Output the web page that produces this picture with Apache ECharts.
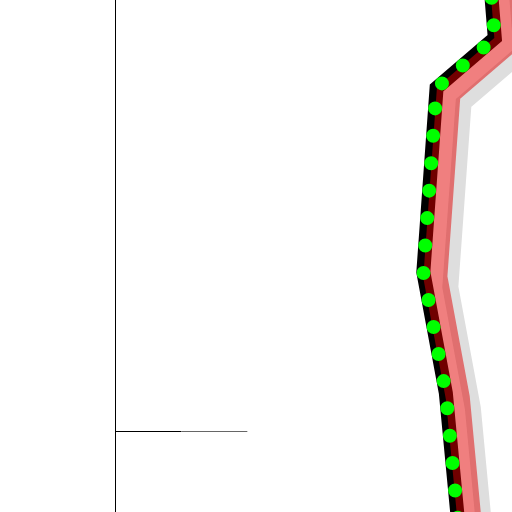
<!DOCTYPE html>
<html>
<head>
<meta charset="utf-8">
<script src="https://cdn.jsdelivr.net/npm/echarts@6/dist/echarts.min.js"></script>
<style>html,body{margin:0;padding:0;background:#fff}#c{width:512px;height:512px}</style>
</head>
<body>
<div id="c"></div>
<script>
// data
const xValues = [281, 287, 243, 233, 250, 262];
const yValues = [491, 393, 343, 159, 38, -129];
const baseLineX = [0, 50, 100];
const xMin = 0, xMax = 300;
const yMin = -181, yMax = 531;

const pts = xValues.map((x, i) => [x, yValues[i]]);
const chart = echarts.init(document.getElementById('c'), null, {renderer: 'canvas'});

function grid(dx, dy) {
  return {left: 115 + dx, top: -100 + dy, width: 397, height: 712,
          containLabel: false, outerBoundsMode: 'none'};
}
function hiddenX(i) {
  return {type: 'value', gridIndex: i, min: xMin, max: xMax, show: false};
}
function hiddenY(i) {
  return {type: 'value', gridIndex: i, min: yMin, max: yMax, show: false};
}

chart.setOption({
  animation: false,
  grid: [grid(0, 0), grid(12, 5), grid(27, 15)],
  xAxis: [
    {type: 'value', gridIndex: 0, min: xMin, max: xMax,
     axisLine: {show: false}, axisTick: {show: false}, axisLabel: {show: false}, splitLine: {show: false}},
    hiddenX(1), hiddenX(2)
  ],
  yAxis: [
    {type: 'value', gridIndex: 0, min: yMin, max: yMax,
     axisLine: {show: true, onZero: false, lineStyle: {width: 1, color: '#000'}},
     axisTick: {show: false}, axisLabel: {show: false}, splitLine: {show: false}},
    hiddenY(1), hiddenY(2)
  ],
  series: [
    {type: 'line', xAxisIndex: 2, yAxisIndex: 2, data: pts, symbol: 'none', clip: false,
     lineStyle: {color: '#dedede', width: 16, join: 'miter'}},
    {type: 'line', xAxisIndex: 0, yAxisIndex: 0, data: pts, symbol: 'none', clip: false,
     lineStyle: {color: '#000000', width: 14, join: 'miter'},
     markLine: {silent: true, symbol: 'none', label: {show: false},
       data: [
         [{coord: [baseLineX[0], 0], lineStyle: {color: '#000', width: 1, type: 'solid'}}, {coord: [baseLineX[1], 0]}],
         [{coord: [baseLineX[1], 0], lineStyle: {color: '#666', width: 1, type: 'solid'}}, {coord: [baseLineX[2], 0]}]
       ]}},
    {type: 'line', xAxisIndex: 1, yAxisIndex: 1, data: pts, symbol: 'none', clip: false,
     lineStyle: {color: 'rgba(225,0,0,0.5)', width: 24, join: 'miter'}},
    {type: 'line', xAxisIndex: 0, yAxisIndex: 0, data: pts, symbol: 'none', clip: false,
     lineStyle: {color: '#00ff00', width: 14, type: [0, 27.5], cap: 'round', dashOffset: 24.5}}
  ]
});
</script>
</body>
</html>
